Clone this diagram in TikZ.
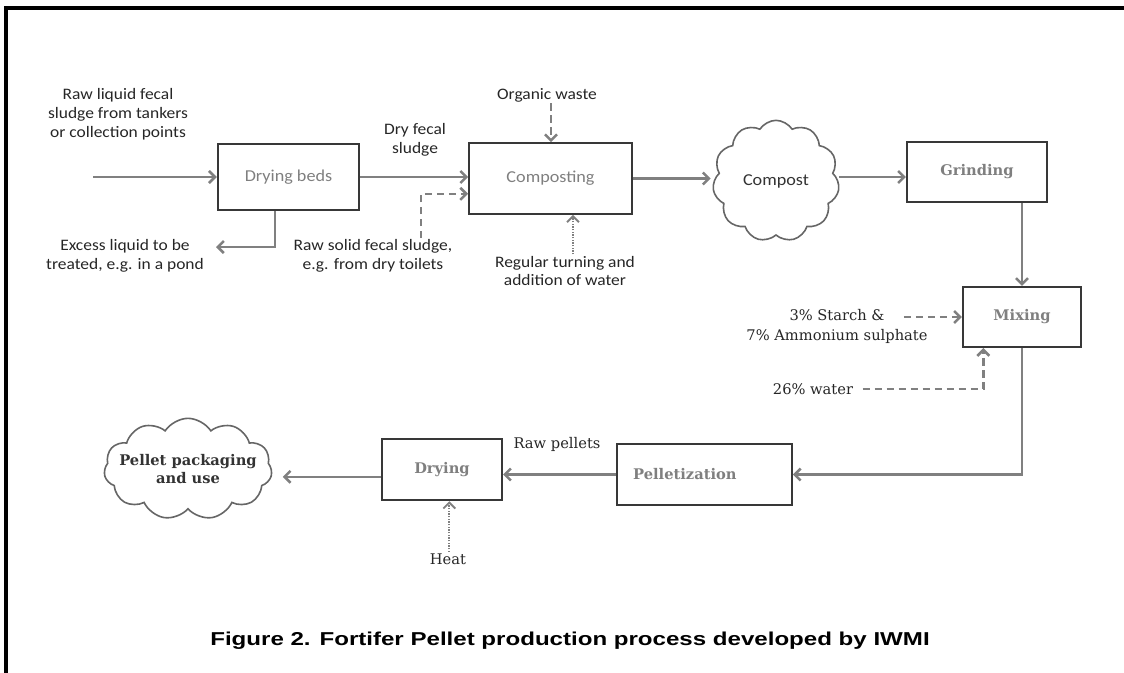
\documentclass[tikz,border=0pt]{standalone}
\usepackage{fontspec}
\setmainfont{DejaVu Serif}
\newfontfamily\calibri[FakeStretch=1.09]{Carlito}
\newfontfamily\arialfont[FakeStretch=1.29]{Liberation Sans}
\usetikzlibrary{positioning, arrows.meta, shapes.symbols}
\definecolor{linegray}{HTML}{808080}
\definecolor{boxline}{HTML}{383838}
\definecolor{boxtext}{HTML}{7F7F7F}
\definecolor{labeltext}{HTML}{262626}

\begin{document}
\begin{tikzpicture}[x=0.75pt, y=-0.75pt,
    flow/.style={draw=linegray, line width=1.9pt, -{Straight Barb[length=4.5pt, width=9pt]}},
    dashflow/.style={flow, dash pattern=on 5.5pt off 3.5pt},
    dotflow/.style={flow, line width=1.4pt, dash pattern=on 1pt off 1pt},
    upbox/.style={draw=boxline, line width=1.6pt, text=boxtext, font=\calibri\fontsize{12.5}{14}\selectfont},
    lowbox/.style={draw=boxline, line width=1.6pt, text=boxtext, font=\bfseries\fontsize{11}{13}\selectfont},
    pile/.style={cloud, cloud puffs=11, cloud puff arc=115, cloud ignores aspect, draw=black!60, line width=1.2pt, text=black!80},
    uplabel/.style={align=center, text=labeltext, inner sep=1pt, font=\calibri\fontsize{12}{14.2}\selectfont},
    lowlabel/.style={align=center, text=labeltext, inner sep=1pt, font=\fontsize{11}{15}\selectfont}]
    \useasboundingbox (0,0) rectangle (1124,672);
    % frame
    \draw[line width=2.3pt, line cap=rect] (6,672) -- (6,8) -- (1124,8);

    % upper row
    \node[upbox, minimum width=106pt, minimum height=49.5pt] (beds) at (288.5,177) {Drying beds};
    \node[upbox, minimum width=122pt, minimum height=53pt] (compo) at (550.5,178.5) {Composting};
    \node[pile, minimum width=95pt, minimum height=91pt, font=\calibri\fontsize{12.5}{14}\selectfont] (compost) at (776,181) {Compost};
    \node[lowbox, minimum width=105pt, minimum height=45pt] (grind) at (977,172) {Grinding};
    \node[lowbox, minimum width=88.5pt, minimum height=45pt] (mix) at (1022,317) {Mixing};

    % lower row
    \node[lowbox, minimum width=131pt, minimum height=46pt, text width=107pt, align=left] (pellet) at (704.5,474.5) {Pelletization};
    \node[lowbox, minimum width=90pt, minimum height=46pt] (dryer) at (442,469.5) {Drying};
    \node[pile, inner xsep=-9pt, inner ysep=0pt, minimum width=126pt, minimum height=76pt, align=center, font=\bfseries\fontsize{11}{13}\selectfont] (pack) at (188,469) {Pellet packaging\\and use};

    % texts
    \node[uplabel] (liquid) at (118,114) {Raw liquid fecal\\sludge from tankers\\or collection points};
    \node[uplabel] (dryfs) at (415,140) {Dry fecal\\sludge};
    \node[uplabel] (excess) at (125,256) {Excess liquid to be\\treated, e.g. in a pond};
    \node[uplabel] (solid) at (373,256) {Raw solid fecal sludge,\\e.g. from dry toilets};
    \node[uplabel] (organic) at (547,95) {Organic waste};
    \node[uplabel] (turning) at (565,271) {Regular turning and\\addition of water};
    \node[lowlabel] (starch) at (837,326) {3\% Starch \&\\7\% Ammonium sulphate};
    \node[lowlabel] (water) at (813,389) {26\% water};
    \node[lowlabel] (rawpel) at (557,444) {Raw pellets};
    \node[lowlabel] (heat) at (448,559) {Heat};

    \coordinate (inlet) at (93,177);
    \coordinate (outlet) at (217,247);

    % connectors
    \draw[flow] (inlet) -- (beds.west);
    \draw[flow] (beds.east) -- (beds.east -| compo.west);
    \draw[flow, -] (beds.south -| 275,0) |- (outlet) [-{Straight Barb[length=4.5pt, width=9pt]}] -- +(-1,0);
    \draw[dashflow] ([xshift=36pt]solid.north) |- ([yshift=-11.5pt]compo.west);
    \draw[dashflow] ([xshift=3pt]organic.south) -- ([xshift=3pt]organic.south |- compo.north);
    \draw[dotflow] ([xshift=6pt]turning.north) -- ([xshift=6pt]turning.north |- compo.south);
    \draw[flow] (compo.east) -- ([xshift=-2pt]compo.east -| compost.west);
    \draw[flow] ([yshift=3pt]compost.east) -- ([yshift=3pt]compost.east -| grind.west);
    \draw[flow] (grind.south -| mix.north) -- (mix.north);
    \draw[dashflow] ([xshift=-43.5pt]mix.west) -- (mix.west);
    \draw[dashflow] ([xshift=6pt]water.east) -| ([xshift=-29pt]mix.south);
    \draw[flow] (mix.south) |- (pellet.east);
    \draw[flow] (pellet.west) -- (pellet.west -| dryer.east);
    \draw[flow, shorten >=8pt] ([yshift=-5.5pt]dryer.west) -- ([yshift=-5.5pt]dryer.west -| pack.east);
    \draw[dotflow] ([xshift=1pt]heat.north) -- ([xshift=1pt]heat.north |- dryer.south);

    % caption
    \node[font=\arialfont\bfseries\fontsize{14}{17}\selectfont] (caption) at (570,641) {Figure 2. Fortifer Pellet production process developed by IWMI};
\end{tikzpicture}
\end{document}
